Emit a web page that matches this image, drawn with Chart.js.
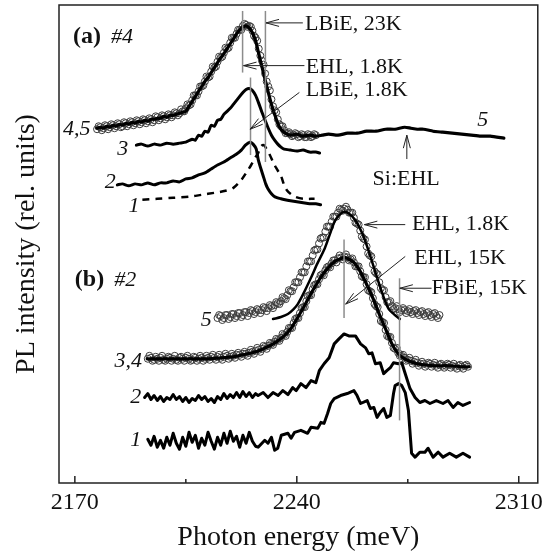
<!DOCTYPE html>
<html>
<head>
<meta charset="utf-8">
<script src="https://cdn.jsdelivr.net/npm/chart.js@4.4.0/dist/chart.umd.min.js"></script>
<style>
  html, body { margin: 0; padding: 0; background: #fff; }
</style>
</head>
<body>
<canvas id="plChart" width="548" height="558"></canvas>
<script>
const SERIF = "'Liberation Serif', 'DejaVu Serif', serif";

// x axis
const tickValues = [2170, 2205, 2240, 2275, 2310];
const tickLabels = [2170, 2240, 2310];

// panel (a), sample #4 : [photon energy meV, intensity rel. units]
const curveA45 = [[2176.9,357],[2178,358],[2179,357],[2180,359],[2181,358],[2182,360],[2183,359],[2184,361],[2185,360],[2186,362],[2187,361],[2188,363],[2189,362],[2190,364],[2191,363],[2192,365],[2193,364],[2194,366],[2195,366],[2196,367],[2197,367],[2198,369],[2199,368],[2200,370],[2201,370],[2202,371],[2203,372],[2204,373],[2205,374],[2206,379],[2207,384],[2208,389],[2209,394],[2210,399],[2211,404],[2212,408],[2213,413],[2214,418],[2215,423],[2216,428],[2217,432],[2218,437],[2219,442],[2220,447],[2221,452],[2222,456],[2223,459],[2224,460],[2225,458],[2226,453],[2227,445],[2228,432],[2229,419],[2230,406],[2231,393],[2232,381],[2233,371],[2234,362],[2235,356],[2236,353],[2237,351],[2238,350],[2240,351],[2242,349],[2244,350],[2246,349],[2248,350],[2250,351],[2253,350],[2256,352],[2259,352],[2262,354],[2265,354],[2268,356],[2271,356],[2274,358],[2276,357],[2278,356],[2280,356],[2283,354],[2286,353],[2289,352],[2292,351],[2295,350],[2298,349],[2301,349],[2305.3,347]];
const circlesA45 = [[2177,356],[2178,358],[2179,357],[2180,359],[2181,358],[2182,360],[2183,359],[2184,361],[2185,359],[2186,362],[2187,361],[2188,363],[2189,362],[2190,364],[2191,363],[2192,365],[2193,364],[2194,366],[2195,365],[2196,368],[2197,367],[2198,369],[2199,368],[2200,370],[2201,370],[2202,372],[2203,372],[2204,374],[2205,377],[2206,380],[2207,385],[2208,390],[2209,394],[2210,399],[2211,404],[2212,408],[2213,414],[2214,418],[2215,424],[2216,428],[2217,433],[2218,437],[2219,443],[2220,448],[2221,452],[2222,456],[2223,460],[2224,461],[2225,460],[2226,455],[2227,448],[2228,437],[2229,425],[2230,412],[2231,399],[2232,386],[2233,375],[2234,366],[2235,359],[2236,355],[2237,352],[2238,351],[2239,350],[2240,351],[2241,349],[2242,350],[2243,348],[2244,350],[2245,349],[2246,350]];
const circlesA45b = [[2177.5,359],[2178.5,355],[2179.5,360],[2180.5,356],[2181.5,361],[2182.5,357],[2183.5,362],[2184.5,358],[2185.5,363],[2186.5,359],[2187.5,364],[2188.5,360],[2189.5,365],[2190.5,361],[2191.5,366],[2192.5,362],[2193.5,367],[2194.5,363],[2195.5,369],[2196.5,365],[2197.5,370],[2198.5,366],[2199.5,371],[2200.5,368],[2201.5,373],[2202.5,370],[2203.5,376],[2204.5,374],[2205.5,381],[2206.5,381],[2207.5,390],[2208.5,390],[2209.5,399],[2210.5,400],[2211.5,409],[2212.5,409],[2213.5,419],[2214.5,419],[2215.5,429],[2216.5,429],[2217.5,438],[2218.5,438],[2219.5,448],[2220.5,448],[2221.5,456],[2222.5,456],[2223.5,462],[2224.5,459],[2225.5,459],[2226.5,450],[2227.5,445],[2228.5,430],[2229.5,421],[2230.5,404],[2231.5,395],[2232.5,379],[2233.5,373],[2234.5,361],[2235.5,359],[2236.5,352],[2237.5,353],[2238.5,349],[2239.5,352],[2240.5,348],[2241.5,351],[2242.5,348],[2243.5,351],[2244.5,348],[2245.5,351]];
const curveA3 = [[2189.4,340],[2191,341],[2193,339],[2195,341],[2197,340],[2199,342],[2201,341],[2203,342],[2205,343],[2207,346],[2208,345],[2209,350],[2210,349],[2211,354],[2212,353],[2213,360],[2214,359],[2215,365],[2216,366],[2217,371],[2218,374],[2219,377],[2220,381],[2221,385],[2222,389],[2223,393],[2224,396],[2225,397],[2226,395],[2227,390],[2228,382],[2229,373],[2230,365],[2231,357],[2232,350],[2233,345],[2234,341],[2235,338],[2236,336],[2238,335],[2240,334],[2242,335],[2244,333],[2246,333],[2247.2,332]];
const curveA2 = [[2183.4,300],[2185,301],[2187,299],[2189,301],[2191,300],[2193,302],[2195,300],[2197,302],[2199,302],[2201,304],[2203,303],[2205,306],[2207,307],[2209,310],[2211,312],[2213,316],[2215,320],[2217,323],[2219,327],[2221,331],[2222.5,335],[2223.8,340],[2225.2,343],[2226.2,341],[2227.2,336],[2227.8,326],[2228.6,317],[2229.4,309],[2230.2,301],[2230.9,296],[2232,291],[2233.1,288],[2235,286],[2236.3,285],[2238,284],[2240,283],[2242,282],[2244,281],[2246,281],[2247.5,280]];
const curveA1 = [[2191.3,285],[2196,286],[2201,287],[2206,288],[2210,290],[2214,292],[2217.5,294],[2220,297],[2222.5,305],[2224,312],[2225.6,320],[2227,328],[2227.8,332],[2228.8,339],[2229.6,340],[2230.5,336],[2231.5,330],[2232.5,323],[2233.5,317],[2235,309],[2236,300],[2237,294],[2238,291],[2239.5,288],[2242,286],[2245.6,286]];

// panel (b), sample #2
const circlesB5 = [[2215,166],[2216,168],[2217,166],[2218,169],[2219,167],[2220,170],[2221,168],[2222,171],[2223,169],[2224,172],[2225,171],[2226,173],[2227,172],[2228,174],[2229,174],[2230,176],[2231,176],[2232,178],[2233,179],[2234,181],[2235,183],[2236,186],[2237,189],[2238,193],[2239,197],[2240,202],[2241,207],[2242,212],[2243,218],[2244,223],[2245,229],[2246,235],[2247,241],[2248,247],[2249,253],[2250,258],[2251,263],[2252,268],[2253,272],[2254,275],[2255,276],[2256,275],[2257,272],[2258,267],[2259,261],[2260,254],[2261,246],[2262,238],[2263,229],[2264,220],[2265,211],[2266,202],[2267,194],[2268,187],[2269,182],[2270,178],[2271,176],[2272,175],[2273,174],[2274,174],[2275,173],[2276,172],[2277,173],[2278,171],[2279,172],[2280,170],[2281,171],[2282,169],[2283,170],[2284,168],[2285,169]];
const circlesB5b = [[2215.5,169],[2216.5,164],[2217.5,169],[2218.5,165],[2219.5,170],[2220.5,166],[2221.5,171],[2222.5,167],[2223.5,172],[2224.5,168],[2225.5,174],[2226.5,170],[2227.5,175],[2228.5,171],[2229.5,177],[2230.5,173],[2231.5,179],[2232.5,176],[2233.5,182],[2234.5,180],[2235.5,187],[2236.5,185],[2237.5,194],[2238.5,193],[2239.5,202],[2240.5,202],[2241.5,212],[2242.5,212],[2243.5,223],[2244.5,223],[2245.5,234],[2246.5,235],[2247.5,246],[2248.5,247],[2249.5,258],[2250.5,258],[2251.5,268],[2252.5,268],[2253.5,276],[2254.5,274],[2255.5,278],[2256.5,272],[2257.5,272],[2258.5,262],[2259.5,260],[2260.5,248],[2261.5,245],[2262.5,231],[2263.5,228],[2264.5,213],[2265.5,210],[2266.5,196],[2267.5,194],[2268.5,182],[2269.5,183],[2270.5,175],[2271.5,178],[2272.5,172],[2273.5,176],[2274.5,171],[2275.5,175],[2276.5,170],[2277.5,174],[2278.5,169],[2279.5,173],[2280.5,168],[2281.5,172],[2282.5,167],[2283.5,171],[2284.5,166]];
const fitB5 = [[2232.5,165],[2235,167],[2237.2,170],[2239,175],[2240.3,180],[2242,190],[2244.4,206],[2246.5,221],[2248.8,236],[2250.5,251],[2251.9,263],[2253.5,270],[2255,273],[2256.5,271],[2258.1,266],[2259.8,257],[2261.3,246],[2263,230],[2264.4,216],[2266,200],[2267.5,186],[2269,175],[2270.6,170],[2272.5,165]];
const curveB34 = [[2192.8,125],[2196,125],[2200,125],[2204,125],[2208,125],[2212,125],[2216,126],[2220,127],[2223,129],[2226,131],[2228,133],[2230,136],[2232,139],[2234,143],[2236,148],[2238,155],[2240,165],[2242,176],[2244,188],[2246,199],[2248,209],[2250,217],[2252,223],[2254,226],[2255,227],[2256,226],[2258,222],[2260,213],[2262,200],[2264,186],[2266,170],[2268,155],[2270,140],[2272,130],[2274,125],[2276,122],[2278,120],[2280,119],[2284,118],[2288,118],[2292,117],[2294.4,117]];
const circlesB34 = [[2193,125],[2194,126],[2195,124],[2196,125],[2197,126],[2198,124],[2199,125],[2200,126],[2201,125],[2202,124],[2203,126],[2204,125],[2205,126],[2206,125],[2207,124],[2208,126],[2209,125],[2210,126],[2211,125],[2212,126],[2213,127],[2214,126],[2215,127],[2216,126],[2217,127],[2218,128],[2219,127],[2220,128],[2221,129],[2222,129],[2223,130],[2224,130],[2225,131],[2226,132],[2227,133],[2228,134],[2229,135],[2230,137],[2231,138],[2232,140],[2233,142],[2234,144],[2235,146],[2236,149],[2237,152],[2238,156],[2239,161],[2240,166],[2241,171],[2242,177],[2243,183],[2244,189],[2245,195],[2246,200],[2247,205],[2248,210],[2249,214],[2250,218],[2251,221],[2252,224],[2253,226],[2254,227],[2255,228],[2256,227],[2257,225],[2258,222],[2259,218],[2260,213],[2261,207],[2262,200],[2263,193],[2264,186],[2265,178],[2266,170],[2267,162],[2268,154],[2269,147],[2270,141],[2271,135],[2272,131],[2273,128],[2274,126],[2275,124],[2276,123],[2277,122],[2278,121],[2279,120],[2280,120],[2281,119],[2282,120],[2283,119],[2284,118],[2285,119],[2286,118],[2287,118],[2288,119],[2289,118],[2290,117],[2291,118],[2292,117],[2293,118],[2294,117]];
const circlesB34b = [[2193.5,128],[2194.5,123],[2195.5,127],[2196.5,123],[2197.5,128],[2198.5,123],[2199.5,127],[2200.5,123],[2201.5,128],[2202.5,123],[2203.5,127],[2204.5,123],[2205.5,128],[2206.5,123],[2207.5,127],[2208.5,123],[2209.5,128],[2210.5,123],[2211.5,128],[2212.5,124],[2213.5,129],[2214.5,124],[2215.5,129],[2216.5,124],[2217.5,130],[2218.5,125],[2219.5,130],[2220.5,126],[2221.5,131],[2222.5,127],[2223.5,132],[2224.5,128],[2225.5,134],[2226.5,130],[2227.5,136],[2228.5,132],[2229.5,138],[2230.5,135],[2231.5,141],[2232.5,139],[2233.5,145],[2234.5,143],[2235.5,150],[2236.5,148],[2237.5,156],[2238.5,156],[2239.5,165],[2240.5,166],[2241.5,176],[2242.5,177],[2243.5,188],[2244.5,189],[2245.5,199],[2246.5,200],[2247.5,209],[2248.5,209],[2249.5,217],[2250.5,217],[2251.5,224],[2252.5,222],[2253.5,229],[2254.5,225],[2255.5,230],[2256.5,224],[2257.5,226],[2258.5,218],[2259.5,218],[2260.5,208],[2261.5,207],[2262.5,194],[2263.5,192],[2264.5,180],[2265.5,177],[2266.5,163],[2267.5,161],[2268.5,148],[2269.5,147],[2270.5,136],[2271.5,136],[2272.5,128],[2273.5,129],[2274.5,123],[2275.5,126],[2276.5,120],[2277.5,124],[2278.5,118],[2279.5,122],[2280.5,117],[2281.5,121],[2282.5,117],[2283.5,121],[2284.5,116],[2285.5,120],[2286.5,116],[2287.5,120],[2288.5,116],[2289.5,120],[2290.5,115],[2291.5,119],[2292.5,115],[2293.5,119]];
const curveB2 = [[2192,86],[2193,90],[2194,84],[2195,88],[2196,83],[2197,87],[2198,82],[2199,86],[2200,84],[2201,89],[2202,84],[2203,87],[2204,82],[2205,86],[2206,81],[2207,85],[2208,83],[2209,88],[2210,84],[2211,87],[2212,82],[2213,85],[2214,81],[2215,87],[2216,84],[2217,90],[2218,85],[2219,89],[2220,86],[2221,91],[2222,86],[2223,92],[2224,87],[2225,91],[2226,86],[2227,90],[2227.8,88],[2229.4,91],[2230.9,86],[2232.5,91],[2234.1,88],[2235.6,93],[2237.2,89],[2238.7,96],[2239.8,93],[2241.3,100],[2242.9,96],[2244.5,103],[2246,101],[2247.1,113],[2248.6,120],[2250.2,126],[2251.8,140],[2253.3,145],[2254.9,150],[2256.4,148],[2258.5,148],[2260.1,140],[2261.7,136],[2262.7,130],[2263.7,131],[2264.8,120],[2266.3,121],[2267.4,110],[2268.4,113],[2269.5,116],[2270.5,121],[2272.1,120],[2273.1,121],[2274.2,110],[2275.7,95],[2277.3,86],[2278.8,81],[2280.4,83],[2282,80],[2284,83],[2286.1,80],[2287.7,83],[2289.3,76],[2290.8,81],[2292.4,78],[2294.5,81]];
const curveB1 = [[2193,44],[2194,38],[2195,47],[2196,36],[2197,43],[2198,35],[2199,46],[2200,38],[2201,50],[2202,40],[2203,34],[2204,46],[2205,37],[2206,51],[2207,41],[2208,48],[2209,35],[2210,45],[2211,38],[2212,51],[2213,42],[2214,34],[2215,46],[2216,38],[2217,50],[2218,40],[2219,52],[2220,42],[2221,47],[2222,36],[2223,48],[2224,40],[2225,51],[2226,42],[2227,37],[2227.8,36],[2229.9,43],[2230.9,40],[2232,46],[2233,33],[2234,35],[2235.1,48],[2237.2,50],[2238.2,45],[2239.3,51],[2241.3,53],[2243.4,50],[2244.5,56],[2246.6,55],[2247.6,61],[2248.6,60],[2249.7,70],[2250.7,80],[2251.8,85],[2253.8,88],[2255.9,90],[2258,93],[2259,88],[2260.1,80],[2262.2,83],[2263.2,75],[2264.3,76],[2265.3,66],[2266.3,71],[2267.4,75],[2268.4,66],[2269.5,68],[2270.5,90],[2271,98],[2272.1,100],[2273.1,98],[2274.2,91],[2275.2,73],[2276.2,30],[2277.3,26],[2278.8,31],[2280.4,31],[2281.4,35],[2283,26],[2284.6,31],[2286.1,26],[2288.2,30],[2290.3,26],[2292.4,30],[2294.5,26]];

// annotations (energy, intensity)
const markerLines = [[2222.9,475,413],[2230.1,475,323],[2225.4,408,330],[2254.9,245,166],[2272.4,206,63]];
const arrowLines = [[2241.9,463,2230.3,463],[2242.4,420,2223.2,420],[2240.8,393,2225.3,356],[2274.7,326,2274.7,350],[2274.2,260,2261.3,260],[2274.2,228,2255.4,180],[2282.5,196,2272.5,196]];
const noteTexts = [["LBiE, 23K",2242.6,462],["EHL, 1.8K",2242.8,418],["LBiE, 1.8K",2242.8,395],["EHL, 1.8K",2276.3,260],["EHL, 15K",2277,226],["FBiE, 15K",2282.5,196]];
const centerTexts = [["Si:EHL",2274.5,306]];
const curveLabels = [["4,5",2166.3,356],["3",2183.4,336],["2",2179.4,303],["1",2186.9,279],["5",2296.9,365],["5",2209.7,164],["3,4",2182.5,123],["2",2187.5,86],["1",2187.5,43]];
const panelLabels = [["(a)","#4",2169.4,449],["(b)","#2",2170,204]];

function lineSet(data, width, dash, tension) {
  return {
    data: data.map(p => ({x: p[0], y: p[1]})),
    showLine: true, pointRadius: 0, borderColor: "#000", borderWidth: width,
    borderDash: dash || [], tension: tension, fill: false,
    borderJoinStyle: "round", borderCapStyle: dash ? "butt" : "round"
  };
}
function circleSet(data) {
  return {
    data: data.map(p => ({x: p[0], y: p[1]})),
    showLine: false, pointRadius: 3.5, pointBorderWidth: 1,
    pointBorderColor: "#3c3c3c", pointBackgroundColor: "rgba(255,255,255,0)"
  };
}

function arrow(ctx, x1, y1, x2, y2) {
  ctx.beginPath(); ctx.moveTo(x1, y1); ctx.lineTo(x2, y2); ctx.stroke();
  const ang = Math.atan2(y2 - y1, x2 - x1);
  const L = 13, W = 3.5;
  for (const s of [-1, 1]) {
    ctx.beginPath();
    ctx.moveTo(x2, y2);
    ctx.lineTo(x2 - L * Math.cos(ang) - s * W * Math.sin(ang), y2 - L * Math.sin(ang) + s * W * Math.cos(ang));
    ctx.stroke();
  }
}

const overlay = {
  id: "overlay",
  afterDatasetsDraw(chart) {
    const {ctx, chartArea: a, scales: {x, y}} = chart;
    ctx.save();
    // frame and inner ticks
    ctx.strokeStyle = "#222"; ctx.lineWidth = 1.5;
    ctx.strokeRect(a.left, a.top, a.right - a.left, a.bottom - a.top);
    tickValues.forEach(v => {
      const px = x.getPixelForValue(v);
      const len = tickLabels.includes(v) ? 7 : 4;
      ctx.beginPath(); ctx.moveTo(px, a.bottom); ctx.lineTo(px, a.bottom - len); ctx.stroke();
    });
    // vertical markers
    ctx.strokeStyle = "#8c8c8c"; ctx.lineWidth = 1.5;
    markerLines.forEach(m => {
      const px = x.getPixelForValue(m[0]);
      ctx.beginPath(); ctx.moveTo(px, y.getPixelForValue(m[1])); ctx.lineTo(px, y.getPixelForValue(m[2])); ctx.stroke();
    });
    // arrows
    ctx.strokeStyle = "#222"; ctx.lineWidth = 1;
    arrowLines.forEach(r => arrow(ctx, x.getPixelForValue(r[0]), y.getPixelForValue(r[1]), x.getPixelForValue(r[2]), y.getPixelForValue(r[3])));
    // texts
    ctx.fillStyle = "#111"; ctx.textBaseline = "middle";
    ctx.font = "22px " + SERIF; ctx.textAlign = "left";
    noteTexts.forEach(t => ctx.fillText(t[0], x.getPixelForValue(t[1]), y.getPixelForValue(t[2])));
    ctx.textAlign = "center";
    centerTexts.forEach(t => ctx.fillText(t[0], x.getPixelForValue(t[1]), y.getPixelForValue(t[2])));
    ctx.textAlign = "left";
    ctx.font = "italic 22px " + SERIF;
    curveLabels.forEach(t => ctx.fillText(t[0], x.getPixelForValue(t[1]), y.getPixelForValue(t[2])));
    panelLabels.forEach(t => {
      const px = x.getPixelForValue(t[2]), py = y.getPixelForValue(t[3]);
      ctx.font = "bold 24px " + SERIF;
      ctx.fillText(t[0], px, py);
      const w = ctx.measureText(t[0]).width;
      ctx.font = "italic 22px " + SERIF;
      ctx.fillText(t[1], px + w + 10, py);
    });
    ctx.restore();
  }
};

new Chart(document.getElementById("plChart"), {
  type: "scatter",
  data: {
    datasets: [
      lineSet(curveA45, 3.2, null, 0.2),
      lineSet(curveA3, 3, null, 0.2),
      lineSet(curveA2, 3, null, 0.2),
      lineSet(curveA1, 2.5, [7, 6], 0.3),
      lineSet(fitB5, 2.5, null, 0.3),
      lineSet(curveB34, 3.2, null, 0.3),
      lineSet(curveB2, 3, null, 0),
      lineSet(curveB1, 3, null, 0),
      circleSet(circlesA45),
      circleSet(circlesA45b),
      circleSet(circlesB5),
      circleSet(circlesB5b),
      circleSet(circlesB34),
      circleSet(circlesB34b)
    ]
  },
  options: {
    responsive: false,
    animation: false,
    devicePixelRatio: 1,
    layout: { padding: { top: 2, right: 6, left: 0, bottom: 0 } },
    plugins: { legend: { display: false }, tooltip: { enabled: false } },
    scales: {
      x: {
        type: "linear", min: 2165, max: 2316,
        afterFit: s => { s.height = 75; },
        afterBuildTicks: s => { s.ticks = tickValues.map(v => ({ value: v })); },
        grid: { display: false, drawTicks: false },
        border: { display: false },
        ticks: {
          autoSkip: false, maxRotation: 0, padding: 5, color: "#111",
          font: { family: SERIF, size: 24 },
          callback: v => tickLabels.includes(v) ? String(v) : ""
        },
        title: { display: true, text: "Photon energy (meV)", color: "#111",
          font: { family: SERIF, size: 28 }, padding: { top: 0, bottom: 4 } }
      },
      y: {
        min: 0, max: 481,
        afterFit: s => { s.width = 59; },
        grid: { display: false, drawTicks: false },
        border: { display: false },
        ticks: { display: false },
        title: { display: true, text: "PL intensity (rel. units)", color: "#111",
          font: { family: SERIF, size: 28 }, padding: { top: 10, bottom: 0 } }
      }
    }
  },
  plugins: [overlay]
});
</script>
</body>
</html>
